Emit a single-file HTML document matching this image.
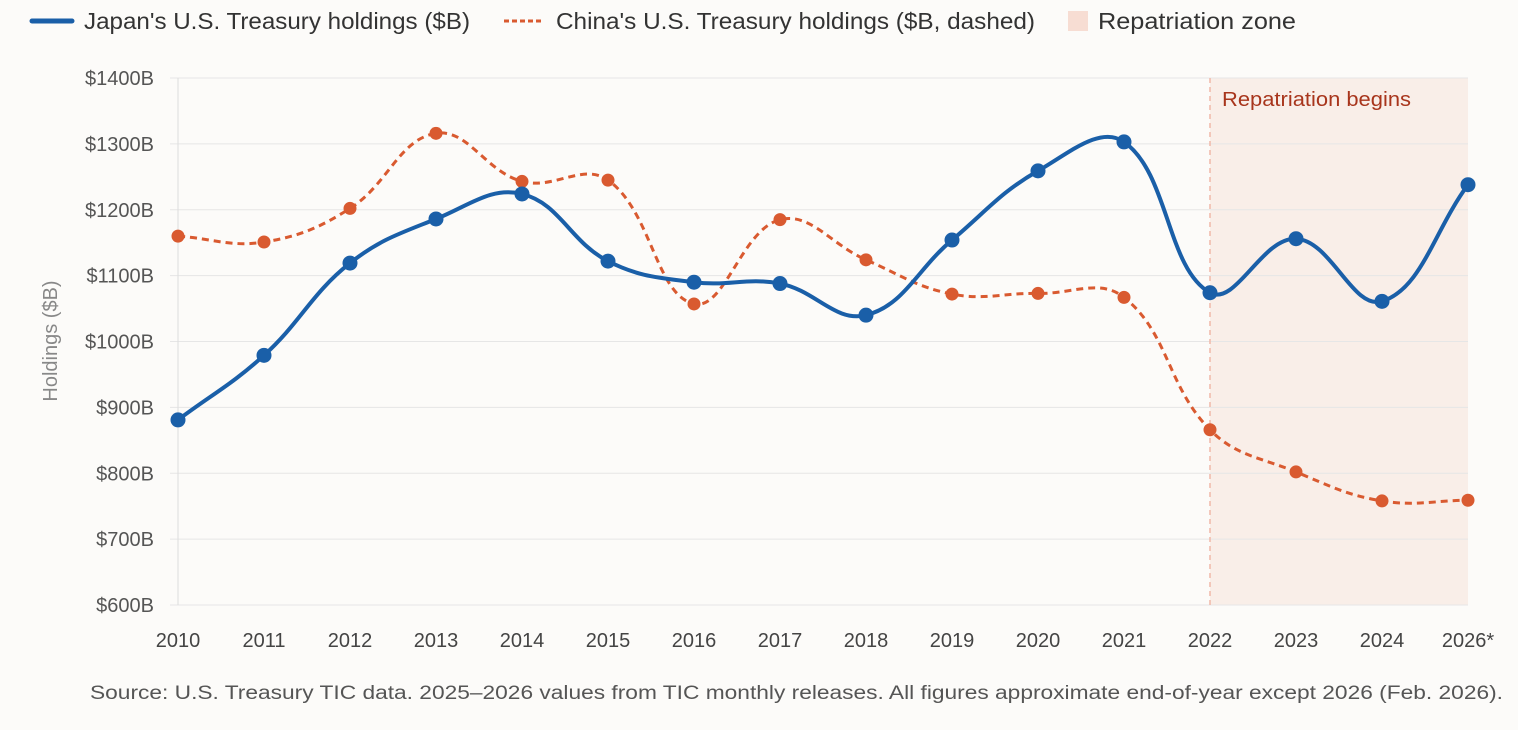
<!DOCTYPE html>
<html><head><meta charset="utf-8"><style>
body{margin:0;background:#fcfbf9;font-family:"Liberation Sans",sans-serif;}
svg{display:block}
</style></head><body>
<svg id="c" width="1518" height="730">
<g id="legend">
<g><line x1="32" y1="21" x2="72" y2="21" stroke="#1a5fa8" stroke-width="5" stroke-linecap="round"/><text x="84" y="29" font-size="23" fill="#333" textLength="386" lengthAdjust="spacingAndGlyphs">Japan's U.S. Treasury holdings ($B)</text></g>
<g><line x1="504" y1="21" x2="544" y2="21" stroke="#d95a30" stroke-width="3" stroke-dasharray="5,3"/><text x="556" y="29" font-size="23" fill="#333" textLength="479" lengthAdjust="spacingAndGlyphs">China's U.S. Treasury holdings ($B, dashed)</text></g>
<g><rect x="1068" y="11" width="20" height="20" fill="#f7ddd3"/><text x="1098" y="29" font-size="23" fill="#333" textLength="198" lengthAdjust="spacingAndGlyphs">Repatriation zone</text></g>
</g>
<g id="plot"></g>
<text x="90" y="699" font-size="19" fill="#555" textLength="1413" lengthAdjust="spacingAndGlyphs">Source: U.S. Treasury TIC data. 2025–2026 values from TIC monthly releases. All figures approximate end-of-year except 2026 (Feb. 2026).</text>
</svg>
<script>
const categories=["2010","2011","2012","2013","2014","2015","2016","2017","2018","2019","2020","2021","2022","2023","2024","2026*"];
const japan=[881,979,1119,1186,1224,1122,1090,1088,1040,1154,1259,1303,1074,1156,1061,1238];
const china=[1160,1151,1202,1316,1243,1245,1057,1185,1124,1072,1073,1067,866,802,758,759];
const yTicks=[600,700,800,900,1000,1100,1200,1300,1400];
const zoneStart=12;
const NS="http://www.w3.org/2000/svg";
const L=178,R=1468,T=78,B=605;
const x=i=>L+i*(R-L)/(categories.length-1);
const y=v=>B-(v-600)/(800)*(B-T);
const g=document.getElementById('plot');
function mk(t,a,p){const e=document.createElementNS(NS,t);for(const k in a)e.setAttribute(k,a[k]);(p||g).appendChild(e);return e;}
const zone=mk('rect',{x:x(zoneStart),y:T,width:R-x(zoneStart),height:B-T,fill:'#f9eee8'});


yTicks.forEach(v=>{
 const ln=mk('line',{x1:170,x2:R,y1:y(v),y2:y(v),stroke:'#e6e6e6','stroke-width':1});
 
 
 const t=mk('text',{x:154,y:y(v)+7,'text-anchor':'end','font-size':20,fill:'#555'});t.textContent='$'+v+'B';
 
 
});
const ax=mk('line',{x1:L,x2:L,y1:T,y2:B,stroke:'#ddd'});


categories.forEach((c,i)=>{
 const t=mk('text',{x:x(i),y:647,'text-anchor':'middle','font-size':20,fill:'#444'});t.textContent=c;
 
 
});
const yt=mk('text',{transform:'translate(57,341) rotate(-90)','text-anchor':'middle','font-size':20,fill:'#888'});yt.textContent='Holdings ($B)';


const zl=mk('line',{x1:x(zoneStart),x2:x(zoneStart),y1:T,y2:B,stroke:'#f0b8a8','stroke-dasharray':'5,4','stroke-width':1.5});


const zt=mk('text',{x:x(zoneStart)+12,y:106,'font-size':20,fill:'#a8351c',textLength:189,lengthAdjust:'spacingAndGlyphs'});zt.textContent='Repatriation begins';


function path(vals){
 const p=vals.map((v,i)=>[x(i),y(v)]);const t=0.4;let d='M'+p[0][0]+','+p[0][1];
 const cp=p.map((c,i)=>{const a=p[Math.max(i-1,0)],b=p[Math.min(i+1,p.length-1)];
  const d01=Math.hypot(c[0]-a[0],c[1]-a[1]),d12=Math.hypot(b[0]-c[0],b[1]-c[1]);
  let fa=d01/(d01+d12)||0,fb=d12/(d01+d12)||0;fa*=t;fb*=t;
  return [[c[0]-fa*(b[0]-a[0]),c[1]-fa*(b[1]-a[1])],[c[0]+fb*(b[0]-a[0]),c[1]+fb*(b[1]-a[1])]];});
 for(let i=1;i<p.length;i++){d+=` C${cp[i-1][1][0]},${cp[i-1][1][1]} ${cp[i][0][0]},${cp[i][0][1]} ${p[i][0]},${p[i][1]}`;}
 return d;}
const cl=mk('path',{d:path(china),fill:'none',stroke:'#d95a30','stroke-width':3,'stroke-dasharray':'7,5'});


china.forEach((v,i)=>{const c=mk('circle',{cx:x(i),cy:y(v),r:6.5,fill:'#d95a30'});
 
 });
const jl=mk('path',{d:path(japan),fill:'none',stroke:'#1a5fa8','stroke-width':4});


japan.forEach((v,i)=>{const c=mk('circle',{cx:x(i),cy:y(v),r:7.5,fill:'#1a5fa8'});
 
 });
</script>
</body></html>
